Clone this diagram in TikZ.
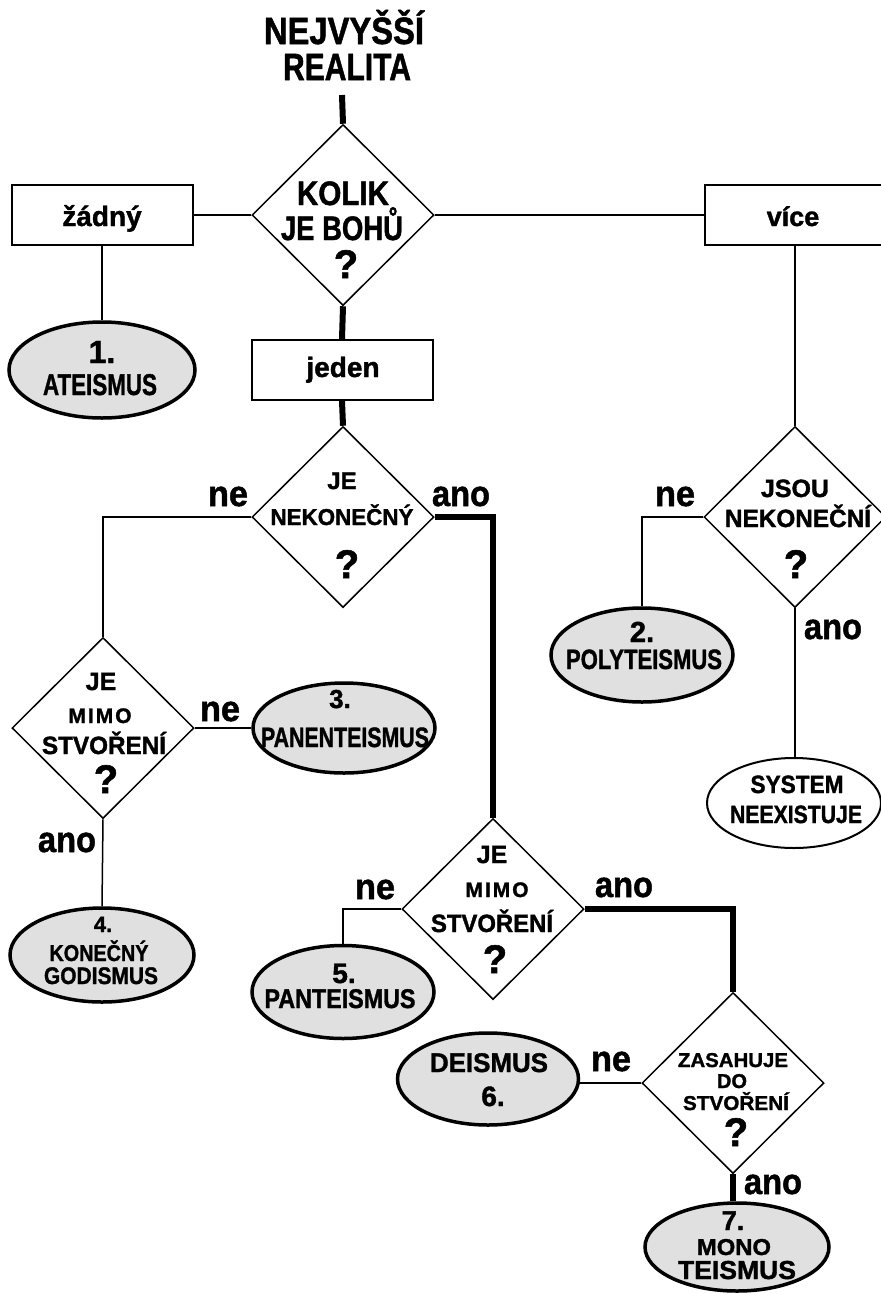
\documentclass[tikz,border=0pt]{standalone}
\usepackage{fontspec}
\setmainfont{Liberation Sans}[BoldFeatures={FakeBold=1.4}]
\usepackage{graphicx}
\usetikzlibrary{shapes.geometric}
\definecolor{ellfill}{RGB}{224,224,224}
\newcommand\tx[3]{\resizebox{#2pt}{\height}{\fontsize{#1pt}{#1pt}\selectfont #3}}
\newcommand\tn[2]{{\fontsize{#1pt}{#1pt}\selectfont #2}}
\newcommand\mimo{M\kern2pt I\kern2pt M\kern2pt O}
\begin{document}
\begin{tikzpicture}[x=1pt,y=-1pt,
  txt/.style={inner sep=0pt, anchor=base, font=\bfseries},
  qdia/.style={diamond, draw, line width=1.5pt, inner sep=0pt, minimum width=182pt, minimum height=181pt},
  qbox/.style={rectangle, draw, line width=2pt, minimum width=181pt, minimum height=60pt, inner sep=0pt},
  resell/.style={ellipse, draw, line width=3.5pt, fill=ellfill, inner sep=0pt},
  conn/.style={line width=1.5pt},
  thickconn/.style={line width=6pt, line join=miter},
]
\useasboundingbox (0,0) rectangle (881,1294);
\fill[white] (0,0) rectangle (881,1294);

% shapes
\node[qdia] (d1) at (343,215) {};
\node[qbox] (zadny) at (102,215) {};
\node[qbox, minimum width=184pt] (vice) at (797,215) {};
\node[resell, minimum width=186pt, minimum height=96pt] (e1) at (102,370) {};
\node[qbox] (jeden) at (342,370) {};
\node[qdia] (d2) at (343,517) {};
\node[qdia] (d3) at (795,517) {};
\node[resell, minimum width=182pt, minimum height=94pt] (e2) at (642,655) {};
\node[ellipse, draw, line width=2pt, inner sep=0pt, minimum width=174pt, minimum height=90pt] (sys) at (794,803) {};
\node[qdia] (d4) at (103,728) {};
\node[resell, minimum width=182pt, minimum height=90pt] (e3) at (344,728) {};
\node[resell, minimum width=184pt, minimum height=94pt] (e4) at (102,955) {};
\node[qdia] (d5) at (493,909) {};
\node[resell, minimum width=182pt, minimum height=93pt] (e5) at (343,992) {};
\node[qdia] (d6) at (733,1083) {};
\node[resell, minimum width=181pt, minimum height=92pt] (e6) at (488,1079) {};
\node[resell, minimum width=184pt, minimum height=88pt] (e7) at (737,1247) {};
\coordinate (top) at (342,95);

% connectors
\draw[thickconn] (top) -- (d1.north);
\draw[conn] (zadny.east) -- (d1.west);
\draw[conn] (d1.east) -- (vice.west);
\draw[conn] (zadny.south) -- (e1.north);
\draw[thickconn] (d1.south) -- (jeden.north);
\draw[thickconn] (jeden.south) -- (d2.north);
\draw[conn] (d3.north |- vice.south) -- (d3.north);
\draw[conn] (d2.west) -| (d4.north);
\draw[thickconn] (d2.east) -| (d5.north);
\draw[conn] (d3.west) -| (e2.north);
\draw[conn] (d3.south) -- (d3.south |- sys.north);
\draw[conn] (d4.east) -- (e3.west);
\draw[conn] (d4.south) -- (e4.north);
\draw[conn] (d5.west) -| (e5.north);
\draw[thickconn] (d5.east) -| (d6.north);
\draw[conn] (d6.west) -- (d6.west -| e6.east);
\draw[thickconn] (d6.south) -- (d6.south |- e7.north);

% title
\node[txt] (t1) at (344,44) {\tx{38}{160}{NEJVYŠŠÍ}};
\node[txt] (t2) at (347,80) {\tx{38}{128}{REALITA}};
% d1
\node[txt] (d1a) at (343,205) {\tx{34}{92}{KOLIK}};
\node[txt] (d1b) at (342,240) {\tx{34}{122}{JE BOHŮ}};
\node[txt] (d1c) at (346,278) {\tn{40}{?}};
% boxes
\node[txt] (zt) at (102,226) {\tn{28}{žádný}};
\node[txt] (vt) at (793,226) {\tn{27}{více}};
\node[txt] (jt) at (343,377) {\tn{28}{jeden}};
% e1
\node[txt] (e1a) at (102,363) {\tn{32}{1.}};
\node[txt] (e1b) at (100,395) {\tx{30}{114}{ATEISMUS}};
% d2
\node[txt] (d2a) at (342,489) {\tn{24}{JE}};
\node[txt] (d2b) at (342,525) {\tx{23}{143}{NEKONEČNÝ}};
\node[txt] (d2c) at (347,578) {\tn{40}{?}};
\node[txt] (l1) at (228,506) {\tx{36}{40}{ne}};
\node[txt] (l2) at (461,506) {\tx{36}{58}{ano}};
% d3
\node[txt] (d3a) at (795,497) {\tx{25}{68}{JSOU}};
\node[txt] (d3b) at (798,527) {\tx{25}{146}{NEKONEČNÍ}};
\node[txt] (d3c) at (796,578) {\tn{40}{?}};
\node[txt] (l3) at (675,506) {\tx{36}{40}{ne}};
\node[txt] (l4) at (833,639) {\tx{36}{58}{ano}};
% e2
\node[txt] (e2a) at (642,642) {\tn{29}{2.}};
\node[txt] (e2b) at (644,669) {\tx{28}{156}{POLYTEISMUS}};
% sys
\node[txt] (s1) at (797,793) {\tx{25}{93}{SYSTEM}};
\node[txt] (s2) at (796,823) {\tx{25}{132}{NEEXISTUJE}};
% d4
\node[txt] (d4a) at (101,690) {\tn{25}{JE}};
\node[txt] (d4b) at (100,723) {\tn{21}{\mimo}};
\node[txt] (d4c) at (104,754) {\tx{25}{124}{STVOŘENÍ}};
\node[txt] (d4d) at (106,793) {\tn{40}{?}};
\node[txt] (l5) at (220,721) {\tx{36}{40}{ne}};
\node[txt] (l6) at (67,852) {\tx{36}{58}{ano}};
% e3
\node[txt] (e3a) at (340,708) {\tn{26}{3.}};
\node[txt] (e3b) at (345,747) {\tx{28}{168}{PANENTEISMUS}};
% e4
\node[txt] (e4a) at (103,932) {\tn{22}{4.}};
\node[txt] (e4b) at (99,961) {\tx{23}{99}{KONEČNÝ}};
\node[txt] (e4c) at (101,984) {\tx{24}{114}{GODISMUS}};
% d5
\node[txt] (d5a) at (492,863) {\tn{25}{JE}};
\node[txt] (d5b) at (497,897) {\tn{21}{\mimo}};
\node[txt] (d5c) at (492,932) {\tx{25}{122}{STVOŘENÍ}};
\node[txt] (d5d) at (495,973) {\tn{40}{?}};
\node[txt] (l7) at (375,899) {\tx{36}{40}{ne}};
\node[txt] (l8) at (624,897) {\tx{36}{58}{ano}};
% e5
\node[txt] (e5a) at (344,983) {\tn{28}{5.}};
\node[txt] (e5b) at (340,1008) {\tx{27}{151}{PANTEISMUS}};
% d6
\node[txt] (d6a) at (733,1067) {\tx{20}{110}{ZASAHUJE}};
\node[txt] (d6b) at (732,1088) {\tn{20}{DO}};
\node[txt] (d6c) at (736,1110) {\tx{20}{106}{STVOŘENÍ}};
\node[txt] (d6d) at (736,1146) {\tn{40}{?}};
\node[txt] (l9) at (611,1071) {\tx{36}{40}{ne}};
\node[txt] (l10) at (773,1194) {\tx{36}{58}{ano}};
% e6
\node[txt] (e6a) at (489,1072) {\tx{27}{118}{DEISMUS}};
\node[txt] (e6b) at (493,1106) {\tn{28}{6.}};
% e7
\node[txt] (e7a) at (733,1230) {\tn{27}{7.}};
\node[txt] (e7b) at (734,1255) {\tx{23}{74}{MONO}};
\node[txt] (e7c) at (737,1279) {\tx{26}{118}{TEISMUS}};
\end{tikzpicture}
\end{document}
